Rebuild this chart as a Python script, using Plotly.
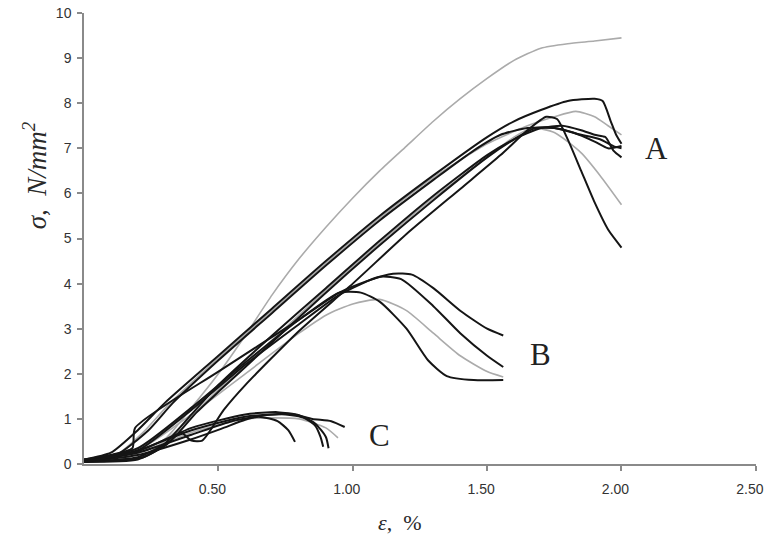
import plotly.graph_objects as go

# ---- data (strain %, stress N/mm2) ----
# Group A
a_g1_x = [0, 0.15, 0.3, 0.4, 0.5, 0.6, 0.7, 0.8, 0.9, 1.0, 1.1, 1.2, 1.3, 1.4, 1.5, 1.6, 1.7, 1.8, 1.9, 2.0]
a_g1_y = [0.05, 0.12, 0.55, 1.25, 2.0, 2.85, 3.75, 4.55, 5.25, 5.9, 6.5, 7.05, 7.6, 8.1, 8.55, 8.95, 9.22, 9.32, 9.38, 9.45]

a_b1_x = [0, 0.1, 0.2, 0.3, 0.5, 0.7, 0.9, 1.1, 1.3, 1.5, 1.6, 1.7, 1.8, 1.9, 1.93, 1.96, 1.98, 2.0]
a_b1_y = [0.1, 0.25, 0.75, 1.35, 2.4, 3.45, 4.5, 5.5, 6.4, 7.25, 7.6, 7.85, 8.05, 8.1, 8.05, 7.6, 7.3, 7.1]

a_g2_x = [0, 0.12, 0.22, 0.32, 0.5, 0.7, 0.9, 1.1, 1.3, 1.5, 1.65, 1.75, 1.83, 1.9, 1.95, 2.0]
a_g2_y = [0.05, 0.2, 0.7, 1.35, 2.35, 3.4, 4.45, 5.45, 6.35, 7.1, 7.5, 7.7, 7.82, 7.7, 7.5, 7.3]

a_b2_x = [0, 0.12, 0.24, 0.33, 0.5, 0.7, 0.9, 1.1, 1.3, 1.45, 1.55, 1.65, 1.75, 1.85, 1.92, 1.97, 2.0]
a_b2_y = [0.1, 0.2, 0.75, 1.35, 2.3, 3.35, 4.4, 5.4, 6.3, 6.95, 7.3, 7.45, 7.45, 7.3, 7.2, 7.05, 7.0]

a_b3_x = [0, 0.2, 0.3, 0.4, 0.5, 0.7, 0.9, 1.1, 1.3, 1.5, 1.6, 1.7, 1.78, 1.85, 1.9, 1.94, 1.97, 2.0]
a_b3_y = [0.05, 0.15, 0.45, 1.1, 1.75, 2.85, 3.9, 4.95, 5.95, 6.85, 7.2, 7.45, 7.5, 7.4, 7.3, 7.25, 6.95, 6.8]

a_b4_x = [0, 0.2, 0.3, 0.36, 0.4, 0.44, 0.52, 0.6, 0.8, 1.0, 1.2, 1.4, 1.55, 1.65, 1.72, 1.76, 1.8, 1.85, 1.9, 1.95, 2.0]
a_b4_y = [0.05, 0.1, 0.4, 0.7, 0.52, 0.52, 1.2, 1.75, 2.95, 4.0, 5.1, 6.1, 6.85, 7.4, 7.7, 7.65, 7.2, 6.5, 5.8, 5.2, 4.8]

a_g3_x = [0, 0.2, 0.3, 0.4, 0.5, 0.7, 0.9, 1.1, 1.3, 1.5, 1.6, 1.67, 1.75, 1.85, 1.92, 2.0]
a_g3_y = [0.05, 0.12, 0.5, 1.05, 1.65, 2.75, 3.85, 4.9, 5.9, 6.8, 7.25, 7.45, 7.35, 6.9, 6.4, 5.75]

a_b5_x = [0, 0.22, 0.32, 0.42, 0.5, 0.7, 0.9, 1.1, 1.3, 1.5, 1.6, 1.68, 1.75, 1.82, 1.9, 1.95, 2.0]
a_b5_y = [0.05, 0.15, 0.5, 1.15, 1.6, 2.7, 3.8, 4.85, 5.85, 6.8, 7.2, 7.45, 7.45, 7.35, 7.15, 7.0, 7.05]

# Group B
b_b1_x = [0, 0.1, 0.18, 0.19, 0.5, 0.8, 0.95, 1.05, 1.15, 1.22, 1.3, 1.4, 1.5, 1.56]
b_b1_y = [0.1, 0.2, 0.35, 0.8, 2.05, 3.2, 3.8, 4.05, 4.22, 4.2, 3.9, 3.4, 3.0, 2.85]

b_b2_x = [0, 0.2, 0.4, 0.6, 0.8, 0.95, 1.1, 1.18, 1.3, 1.4, 1.5, 1.56]
b_b2_y = [0.05, 0.3, 1.2, 2.2, 3.1, 3.75, 4.15, 4.1, 3.5, 2.9, 2.4, 2.15]

b_b3_x = [0, 0.2, 0.4, 0.6, 0.8, 0.95, 1.03, 1.1, 1.2, 1.28, 1.35, 1.45, 1.56]
b_b3_y = [0.08, 0.35, 1.25, 2.25, 3.2, 3.8, 3.8, 3.6, 3.0, 2.3, 1.95, 1.86, 1.86]

b_g1_x = [0, 0.2, 0.4, 0.6, 0.8, 0.9, 1.0, 1.1, 1.2, 1.3, 1.4, 1.5, 1.56]
b_g1_y = [0.08, 0.3, 1.1, 2.0, 2.9, 3.3, 3.55, 3.65, 3.4, 2.9, 2.4, 2.05, 1.93]

# Group C
c_b1_x = [0, 0.2, 0.4, 0.55, 0.7, 0.78, 0.85, 0.92, 0.97]
c_b1_y = [0.05, 0.25, 0.65, 0.95, 1.1, 1.1, 1.0, 0.95, 0.82]

c_b2_x = [0, 0.2, 0.4, 0.51, 0.6, 0.65, 0.72, 0.76, 0.785]
c_b2_y = [0.05, 0.2, 0.55, 0.78, 0.98, 1.05, 0.95, 0.75, 0.49]

c_b3_x = [0, 0.2, 0.4, 0.6, 0.75, 0.82, 0.86, 0.88, 0.89]
c_b3_y = [0.05, 0.3, 0.75, 1.05, 1.1, 1.02, 0.85, 0.6, 0.38]

c_b4_x = [0, 0.2, 0.4, 0.6, 0.72, 0.8, 0.86, 0.9, 0.91]
c_b4_y = [0.05, 0.28, 0.8, 1.1, 1.15, 1.08, 0.9, 0.6, 0.35]

c_g1_x = [0, 0.2, 0.4, 0.6, 0.8, 0.9, 0.945]
c_g1_y = [0.05, 0.25, 0.7, 1.0, 1.0, 0.8, 0.58]

label_text = ["A", "B", "C"]
label_x = [2.13, 1.70, 1.10]
label_y = [7.0, 2.42, 0.64]

x_tickvals = [0.5, 1.0, 1.5, 2.0, 2.5]
x_ticktext = ["0.50", "1.00", "1.50", "2.00", "2.50"]
y_tickvals = list(range(0, 11))

BLACK = "#151515"
GRAY = "#ababab"

curves = [
    (a_g1_x, a_g1_y, GRAY), (b_g1_x, b_g1_y, GRAY), (c_g1_x, c_g1_y, GRAY),
    (a_g2_x, a_g2_y, GRAY), (a_g3_x, a_g3_y, GRAY),
    (a_b1_x, a_b1_y, BLACK), (a_b2_x, a_b2_y, BLACK), (a_b3_x, a_b3_y, BLACK),
    (a_b4_x, a_b4_y, BLACK), (a_b5_x, a_b5_y, BLACK),
    (b_b1_x, b_b1_y, BLACK), (b_b2_x, b_b2_y, BLACK), (b_b3_x, b_b3_y, BLACK),
    (c_b1_x, c_b1_y, BLACK), (c_b2_x, c_b2_y, BLACK), (c_b3_x, c_b3_y, BLACK),
    (c_b4_x, c_b4_y, BLACK),
]

fig = go.Figure()
for xs, ys, col in curves:
    fig.add_trace(go.Scatter(
        x=xs, y=ys, mode="lines",
        line=dict(color=col, width=2.0 if col == BLACK else 1.6, shape="spline", smoothing=0.6),
        hoverinfo="skip", showlegend=False,
    ))

annotations = []
for t, lx, ly in zip(label_text, label_x, label_y):
    annotations.append(dict(
        text=t, x=lx, y=ly, xref="x", yref="y", showarrow=False,
        xanchor="center", yanchor="middle",
        font=dict(family="Liberation Serif, Times New Roman, serif", size=31, color="#222222"),
    ))

annotations += [
    dict(text="<i>σ,  N/mm<sup>2</sup></i>", xref="paper", yref="paper",
         x=-0.073, y=0.64, textangle=-90, showarrow=False,
         font=dict(family="Liberation Serif, Times New Roman, serif", size=27, color="#2a2a2a"),
         xanchor="center", yanchor="middle"),
    dict(text="<i>ε</i>,  %", xref="paper", yref="paper",
         x=0.47, y=-0.13, showarrow=False,
         font=dict(family="Liberation Serif, Times New Roman, serif", size=22, color="#2a2a2a"),
         xanchor="center", yanchor="middle"),
]

axis_common = dict(
    showgrid=False, zeroline=False, showline=True, linecolor="#8a8a8a", linewidth=1.5,
    ticks="outside", ticklen=5, tickcolor="#8a8a8a", tickwidth=1.5,
    tickfont=dict(family="Liberation Sans, Arial, sans-serif", size=14, color="#333333"),
    ticklabeloverflow="allow", automargin=False,
)

fig.update_layout(
    width=766, height=537,
    margin=dict(l=84, r=10, t=13, b=73),
    paper_bgcolor="white", plot_bgcolor="white",
    xaxis=dict(range=[0, 2.5005], tickvals=x_tickvals, ticktext=x_ticktext,
               ticklabelshift=-6, ticklabelstandoff=6, **axis_common),
    yaxis=dict(range=[0, 10.001], tickvals=y_tickvals, ticklabelstandoff=3, **axis_common),
    annotations=annotations,
)

fig.write_html("out.html")
